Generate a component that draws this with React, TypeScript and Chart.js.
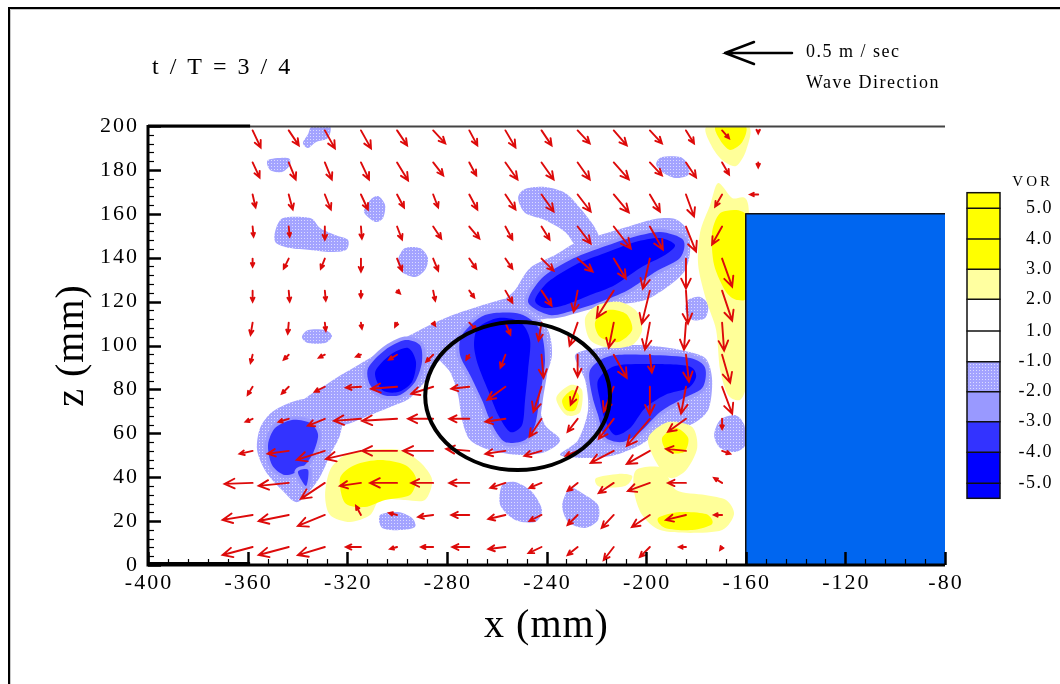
import React, { useEffect, useRef } from 'react';
import { Chart, registerables } from 'chart.js';
Chart.register(...registerables);

// ---- grid of measurement points (mm) ----
const gridX = [-358, -343.5, -329, -314.5, -300, -285.5, -271, -256.5, -242, -227.5, -213, -198.5, -184, -169.5, -155];
const gridZ = [198, 183.4, 168.8, 154.2, 139.6, 125, 110.4, 95.8, 81.2, 66.6, 52, 37.4, 22.8, 8.2];

// ---- horizontal velocity u (cm/s), one row per z level ----
const uRows: number[][] = [
  [6.0, 7.5, 7.5, 7.5, 7.5, 9.0, 6.0, 7.5, 7.5, 9.0, 9.7, 9.0, 6.0, 5.2, 0],
  [5.2, 5.2, 5.2, 6.0, 8.2, 7.5, 5.2, 9.0, 9.0, 9.0, 11.2, 9.0, 7.5, 5.2, 0],
  [2.2, 3.0, 4.5, 5.2, 5.2, 3.7, 6.0, 7.5, 9.0, 9.7, 11.2, 7.5, 6.0, -5.2, -6.0],
  [0.7, 0.7, 0, 0.7, 3.7, 6.0, 7.5, 5.2, 6.0, 9.7, 12.7, 9.7, 7.5, -7.5],
  [0, -3.7, -3.0, 0, 3.7, 3.7, 5.2, 5.2, 9.0, 11.2, 9.0, -5.2, 0, 7.5],
  [0, 0.7, 0.7, 0, 2.2, 1.5, 3.7, 5.2, 7.5, -3.0, -12.7, -6.0, 1.5, 7.5],
  [-1.5, -0.7, 0.7, 0.7, -1.5, 1.5, 5.2, 3.7, -2.2, -6.0, -3.7, -3.7, -1.5, 1.5],
  [-1.5, -3.7, -4.5, -3.7, -6.0, -5.2, -2.2, -3.7, 1.5, 0, 9.7, 1.5, 2.2, 6.0],
  [-3.7, -5.2, -7.5, -11.2, -19.4, -16.4, -13.4, -13.4, -6.0, -5.2, -7.5, 0, -3.7, 7.5],
  [-5.2, -7.5, -12.7, -20.1, -26.1, -18.7, -14.9, -14.9, -9.0, -7.5, -11.2, -17.2, -13.4, 0],
  [-9.7, -15.7, -20.9, -26.1, -26.1, -22.4, -17.2, -14.9, -12.7, -9.0, -17.2, -17.2, -14.9, 6.0],
  [-20.9, -22.4, -17.9, -15.7, -20.1, -16.4, -14.9, -11.2, -9.0, -7.5, -11.2, -16.4, -13.4, -6.0],
  [-22.4, -22.4, -20.1, -3.7, -6.0, -11.2, -13.4, -12.7, -9.0, -7.5, -9.0, -13.4, -14.9, -6.0],
  [-22.4, -22.4, -20.1, -11.2, -5.2, -9.0, -12.7, -12.7, -9.7, -7.5, -7.5, -7.5, -5.2, -1.5],
];

// ---- vertical velocity w (cm/s) ----
const wRows: number[][] = [
  [-12.7, -11.2, -13.4, -13.4, -11.2, -9.7, -11.2, -12.7, -11.2, -9.7, -11.2, -9.7, -9.7, -6.0, -2.2],
  [-11.2, -12.7, -12.7, -12.7, -13.4, -9.7, -9.7, -12.7, -12.7, -12.7, -12.7, -9.7, -11.2, -9.0, -3.7],
  [-9.7, -11.2, -11.2, -11.2, -9.7, -9.7, -11.2, -11.2, -12.7, -12.7, -13.4, -12.7, -16.4, -9.0, 0],
  [-7.5, -7.5, -9.7, -9.0, -9.7, -9.0, -9.0, -9.7, -9.7, -12.7, -16.4, -17.2, -18.7, -13.4],
  [-6.0, -7.5, -7.5, -9.7, -9.0, -9.0, -7.5, -7.5, -9.0, -9.7, -14.9, -22.4, -22.4, -20.9],
  [-8.2, -8.2, -7.5, -5.2, -2.2, -7.5, -5.2, -9.0, -11.2, -15.7, -20.1, -24.6, -24.6, -22.4],
  [-9.0, -8.2, -6.0, -4.5, -3.0, -2.2, -5.2, -9.0, -13.4, -17.2, -18.7, -20.1, -20.1, -20.9],
  [-6.0, -3.7, -2.2, -1.5, -3.7, -5.2, -3.7, -9.7, -17.2, -16.4, -17.2, -13.4, -20.1, -20.9],
  [-6.0, -5.2, -3.7, -0.7, -1.5, -5.2, -1.5, -9.7, -18.7, -13.4, -18.7, -20.9, -20.1, -20.1],
  [-2.2, -2.2, -5.2, -1.5, -1.5, 0, 0, -2.2, -13.4, -9.7, -14.9, -20.1, -9.7, -7.5],
  [-2.2, -2.2, -6.7, -6.0, 0, 0, 1.5, -2.2, -3.7, -3.7, -9.0, -9.7, 1.5, -2.2],
  [-0.7, -2.2, -11.9, -2.2, 0, 0, 0, -3.7, -3.7, -6.0, -7.5, -6.0, 0, 3.7],
  [-3.7, -4.5, -8.2, 6.7, 1.5, -1.5, 0, -3.0, -4.5, -7.5, -9.7, -9.0, -3.7, 0],
  [-6.0, -6.0, -6.0, 0, -1.5, 0, 0, -1.5, -4.5, -6.0, -9.7, -7.5, 0, -2.2],
];

// ---- vorticity contour regions (x mm, z mm) ----
// level -1 .. -2 (dotted)
const vorDotA = [[-334, 200], [-327, 200], [-327.7, 194.5], [-332.5, 192.7], [-335.7, 190], [-337.8, 192.3], [-335.7, 196.4]];
const vorDotB = [[-351.8, 184.5], [-343.8, 185.4], [-343, 182.2], [-346.2, 179], [-351, 180]];
const vorDotC = [[-345.8, 158.1], [-334.9, 158.1], [-330.9, 153.5], [-324.9, 150.3], [-319.7, 148.1], [-320.5, 143.5], [-326.9, 142.6], [-334.9, 143.5], [-343, 144.4], [-348.6, 146.7], [-349, 151.7]];
const vorDotD = [[-310.8, 166.3], [-307.6, 168.1], [-304.8, 164], [-305.6, 158.1], [-308.8, 156.3], [-313.3, 160.8]];
const vorDotE = [[-296.8, 144.4], [-290.8, 144.4], [-287.6, 139.9], [-288.8, 134.4], [-292.8, 131.2], [-298, 133.5], [-299.6, 139]];
const vorDotG = [[-193.6, 185.9], [-186.3, 185.9], [-183.1, 182.2], [-183.1, 177.7], [-188.4, 176.3], [-193.6, 179], [-196, 182.7]];
const vorDotH = [[-170.3, 66.1], [-164.3, 68.3], [-160.6, 63.8], [-160.2, 54.7], [-164.3, 51.5], [-170.3, 53.3], [-172.7, 59.2]];
const vorDotI = [[-257.8, 36.4], [-252.6, 37.8], [-245.8, 33.3], [-241.8, 25.1], [-244.6, 19.6], [-252.6, 20.5], [-258.6, 27.3]];
const vorDotJ = [[-230.5, 35.1], [-224.5, 31.9], [-219.3, 27.3], [-219.3, 20.5], [-224.5, 16.9], [-231.3, 19.6], [-233.7, 27.3]];
const vorDotK = [[-306.8, 22.8], [-299.6, 24.1], [-294, 21.4], [-292.8, 17.3], [-298.8, 15.9], [-306, 16.9]];
const vorDotL = [[-335.7, 107.1], [-328.9, 107.1], [-326.1, 104.3], [-328.9, 101.1], [-335.7, 101.1], [-338.2, 103.9]];
const vorDotN = [[-183.1, 120.7], [-178.3, 122.1], [-175.1, 118.5], [-176.3, 112.5], [-181.5, 111.6], [-184.3, 116.2]];
const vorDotBand1 = [[-339.8, 28.7], [-346.2, 34.2], [-352.6, 42.4], [-356.2, 52.4], [-355, 62.4], [-350.2, 69.7], [-342.2, 74.3], [-334.1, 76.1], [-326.9, 74.3], [-322.1, 68.3], [-322.9, 59.2], [-326.9, 50.1], [-331.7, 38.7]];
const vorDotBand2 = [[-339, 72.9], [-326.9, 83.4], [-314.9, 91.6], [-302, 100.2], [-290.8, 107.1], [-278.7, 113.4], [-266.7, 118], [-254.6, 121.6], [-246.6, 119.8], [-250.6, 107.1], [-270.7, 100.2], [-282.7, 93.4], [-287.6, 85.2], [-294.8, 76.1], [-300.8, 72.9], [-310.8, 68.3], [-320.9, 63.8], [-330.9, 62.4]];
const vorDotBand3 = [[-258.6, 118.5], [-252.6, 125.3], [-246.6, 135.3], [-236.5, 141.2], [-228.5, 146.7], [-218.5, 150.3], [-206.4, 154.4], [-196.4, 157.6], [-188.4, 157.6], [-183.5, 152.6], [-182.3, 143.5], [-184.3, 134.4], [-190.4, 127.6], [-200.4, 120.7], [-212.5, 118.5], [-224.5, 116.2], [-234.5, 113.4], [-244.6, 111.6], [-254.6, 112.5]];
const vorDotBand4 = [[-251.4, 167.2], [-248.6, 171.3], [-240.6, 172.2], [-232.5, 169.5], [-226.5, 162.6], [-220.5, 153.5], [-218.5, 145.8], [-226.5, 143.5], [-232.5, 151.7], [-240.6, 157.2], [-248.6, 160.4]];
const vorDotCircle = [[-285.9, 107.1], [-274.7, 112.5], [-258.6, 117.1], [-246.6, 115.3], [-239.4, 107.1], [-237.8, 95.7], [-240.6, 84.3], [-242.6, 72.9], [-240.6, 63.8], [-234.5, 57], [-240.6, 51.5], [-250.6, 50.1], [-262.7, 52.4], [-270.7, 57], [-273.9, 66.1], [-275.5, 77.5], [-278.7, 87.9], [-284.3, 95.7]];
const vorDotRight = [[-228.5, 95.7], [-218.5, 98.9], [-202.4, 100.2], [-186.4, 98], [-176.3, 94.3], [-173.5, 84.3], [-175.1, 70.6], [-182.3, 63.8], [-194.4, 60.6], [-202.4, 54.7], [-212.5, 50.1], [-222.5, 48.7], [-234.5, 50.1], [-227.3, 57], [-223.3, 70.6], [-224.5, 84.3]];

// level -3 .. -4
const vorMidLL = [[-351.8, 54.7], [-349, 62.4], [-342.2, 66.1], [-334.9, 64.7], [-331.7, 59.2], [-334.1, 50.1], [-339, 43.3], [-345, 41], [-350.2, 45.6]];
const vorMidLL2 = [[-339.8, 42.4], [-335.7, 43.3], [-336.5, 36]];
const vorMidBand = [[-311.6, 89.8], [-304.8, 98], [-296.8, 102.5], [-290.8, 100.2], [-290, 92.5], [-292.8, 83.4], [-298.8, 77.5], [-305.6, 77.5], [-310.8, 82]];
const vorMidCircle = [[-273.9, 104.8], [-264.7, 113.9], [-250.6, 114.4], [-242.6, 107.1], [-240.6, 93.4], [-242.6, 77.5], [-244.6, 63.8], [-248.6, 57], [-256.6, 56], [-261.8, 63.8], [-265.9, 75.2], [-270.7, 86.6], [-274.7, 95.7]];
const vorMidUpper = [[-247.4, 119.8], [-241.8, 130.8], [-230.5, 139], [-218.5, 144.4], [-206.4, 149], [-194.4, 151.7], [-185.1, 148.1], [-186.4, 139.9], [-196.4, 133.5], [-207.2, 125.3], [-218.5, 119.8], [-228.5, 116.2], [-238.6, 113.9]];
const vorMidRight = [[-222.5, 88.8], [-214.5, 95.2], [-198.4, 95.7], [-182.3, 94.3], [-176.3, 89.8], [-177.5, 80.6], [-186.4, 75.2], [-194.4, 69.7], [-202.4, 60.6], [-209.6, 56], [-216.5, 58.3], [-219.3, 68.3], [-221.7, 77.5]];

// level below -4
const vorDarkBand = [[-308.8, 87.9], [-302.8, 95.7], [-295.6, 98.9], [-292.4, 92.5], [-294, 83.4], [-299.6, 78.8], [-306, 79.7]];
const vorDarkCircle = [[-267.5, 108], [-259.4, 112.5], [-250.6, 110.7], [-246.6, 102.5], [-247.4, 88.8], [-248.6, 75.2], [-249.8, 63.8], [-254.6, 60.6], [-259.4, 68.3], [-263.5, 79.7], [-267.5, 91.1], [-269.1, 100.2]];
const vorDarkUpper = [[-244.6, 120.7], [-239.4, 128.9], [-228.5, 136.7], [-216.5, 142.1], [-204.4, 147.2], [-194.4, 149], [-188.4, 145.8], [-192.4, 141.2], [-202.4, 135.3], [-212.5, 127.6], [-222.5, 123], [-232.5, 118.5], [-240.6, 117.1]];
const vorDarkRight = [[-219.3, 84.3], [-212.5, 90.7], [-198.4, 91.6], [-183.1, 90.7], [-179.9, 86.1], [-183.1, 80.6], [-192.4, 77.5], [-200.4, 71.5], [-206.4, 62.4], [-212.5, 59.2], [-216.5, 66.1], [-218.5, 75.2]];

// level +2 .. +3 (pale yellow)
const vorPaleLL = [[-326.9, 43.3], [-320.9, 50.1], [-310.8, 52.4], [-298.8, 52.4], [-290.8, 46.9], [-285.9, 38.7], [-288.8, 29.6], [-296.8, 29.6], [-306.8, 29.6], [-310.8, 22.8], [-318.9, 19.6], [-326.9, 22.8], [-328.9, 31.9]];
const vorPaleMid = [[-224.5, 112.5], [-219.3, 118.5], [-210.4, 119.8], [-203.6, 115.3], [-201.6, 107.1], [-205.6, 100.2], [-214.5, 98.9], [-222.5, 102.5]];
const vorPaleCircle = [[-236.1, 76.1], [-230.5, 82], [-225.7, 79.7], [-226.5, 69.7], [-232.1, 68.3]];
const vorPaleLR1 = [[-199.2, 57.9], [-191.2, 65.1], [-181.5, 62.9], [-179.5, 53.3], [-183.9, 43.3], [-190.4, 39.6], [-196, 46.9]];
const vorPaleLR2 = [[-204, 43.3], [-193.6, 44.2], [-188, 34.2], [-176.3, 31.9], [-167.9, 29.6], [-164.7, 23.2], [-169.5, 15.9], [-182.3, 14.6], [-194.4, 15.9], [-201.6, 22.8], [-204.8, 33.3]];
const vorPaleLR3 = [[-220.1, 39.6], [-211.2, 41.5], [-205.6, 40.5], [-208.4, 36], [-218.5, 35.5]];
const vorPaleTop = [[-175.5, 200], [-159, 200], [-159.8, 189.1], [-163.9, 181.8], [-169.5, 184.5], [-173.9, 191.3]];
const vorPaleWall = [[-171.1, 174], [-165.5, 167.2], [-159, 164], [-159, 120.7], [-159.8, 100.2], [-159.8, 82], [-162.3, 75.2], [-167.1, 77.5], [-170.3, 88.8], [-171.9, 107.1], [-175.9, 120.7], [-179.1, 136.7], [-178.3, 151.7], [-174.3, 164]];

// level above +3 (yellow)
const vorYelLL = [[-322.9, 39.6], [-316.9, 45.6], [-306.8, 47.8], [-296.8, 45.6], [-292.4, 39.6], [-294.8, 31.9], [-304.8, 29.6], [-312.9, 26.4], [-320.9, 28.2]];
const vorYelMid = [[-220.5, 110.7], [-215.3, 116.2], [-208, 114.4], [-205.6, 107.1], [-211.2, 101.6], [-218.5, 103.9]];
const vorYelCircle = [[-233.7, 75.2], [-229.7, 79.7], [-226.9, 77], [-228.5, 70.6], [-232.1, 70.6]];
const vorYelLR1 = [[-193.6, 57.9], [-188, 62.4], [-183.1, 57.9], [-184.7, 51.5], [-191.2, 51.5]];
const vorYelLR2 = [[-195.2, 21.4], [-186.4, 24.1], [-175.9, 23.2], [-173.5, 18.7], [-181.5, 15.9], [-192.4, 16.9]];
const vorYelTop = [[-171.9, 200], [-160.2, 200], [-161.4, 192.7], [-166.3, 189.1], [-170.3, 193.6]];
const vorYelWall = [[-173.5, 151.7], [-169.5, 160.8], [-159, 158.1], [-159, 124.4], [-163.1, 120.7], [-167.9, 124.4], [-172.7, 136.7]];

const dottedRegions = [vorDotA, vorDotB, vorDotC, vorDotD, vorDotE, vorDotG, vorDotH, vorDotI, vorDotJ, vorDotK, vorDotL, vorDotN, vorDotBand1, vorDotBand2, vorDotBand3, vorDotBand4, vorDotCircle, vorDotRight];
const midRegions = [vorMidLL, vorMidLL2, vorMidBand, vorMidCircle, vorMidUpper, vorMidRight];
const darkRegions = [vorDarkBand, vorDarkCircle, vorDarkUpper, vorDarkRight];
const paleRegions = [vorPaleLL, vorPaleMid, vorPaleCircle, vorPaleLR1, vorPaleLR2, vorPaleLR3, vorPaleTop, vorPaleWall];
const yellowRegions = [vorYelLL, vorYelMid, vorYelCircle, vorYelLR1, vorYelLR2, vorYelTop, vorYelWall];

// structure (mm)
const structureX = [-160, -80];
const structureZ = [0, 160];
// highlighted vortex ellipse (mm)
const ellipseCenter = [-251.6, 77];
const ellipseRadii = [37.1, 33.7];

// axes
const xTickLabels = [-400, -360, -320, -280, -240, -200, -160, -120, -80];
const zTickLabels = [0, 20, 40, 60, 80, 100, 120, 140, 160, 180, 200];

// legend
const legendLabels = ['5.0', '4.0', '3.0', '2.0', '1.0', '-1.0', '-2.0', '-3.0', '-4.0', '-5.0'];
const legendFills = ['#ffff00', '#ffff00', '#ffff00', '#ffffa0', '#ffffff', '#ffffff', 'dot', '#9999ff', '#3333ff', '#0000ff', '#0000ff'];

const REF_SPEED = 50; // cm/s  (0.5 m/s)
const PX_PER_CMS = 1.34;
const SERIF = '"Liberation Serif", "DejaVu Serif", serif';

function makeDotPattern(ctx: CanvasRenderingContext2D) {
  const c = document.createElement('canvas');
  c.width = 3; c.height = 3;
  const g = c.getContext('2d')!;
  g.fillStyle = '#a3a3ff';
  g.fillRect(0, 0, 3, 3);
  g.fillStyle = '#dcdcff';
  g.fillRect(1, 1, 1, 1);
  return ctx.createPattern(c, 'repeat')!;
}

export default function App() {
  const ref = useRef<HTMLCanvasElement>(null);
  useEffect(() => {
    const canvas = ref.current!;
    const tails: { x: number; y: number }[] = [];
    gridZ.forEach((z, r) => uRows[r].forEach((_, c) => tails.push({ x: gridX[c], y: z })));

    const plugin = {
      id: 'vorticityField',
      beforeDraw(chart: any) {
        const ctx = chart.ctx as CanvasRenderingContext2D;
        ctx.save();
        ctx.fillStyle = '#ffffff';
        ctx.fillRect(0, 0, chart.width, chart.height);
        ctx.restore();
      },
      afterDatasetsDraw(chart: any) {
        const ctx = chart.ctx as CanvasRenderingContext2D;
        const xs = chart.scales.x, ys = chart.scales.y;
        const sx = (v: number) => xs.getPixelForValue(v);
        const sy = (v: number) => ys.getPixelForValue(v);
        const area = chart.chartArea;
        const dot = makeDotPattern(ctx);

        // closed Catmull-Rom spline through the region's vertices
        const path = (pts: number[][]) => {
          const p = pts.map(([x, z]) => [sx(x), sy(z)]);
          const n = p.length;
          ctx.beginPath();
          ctx.moveTo(p[0][0], p[0][1]);
          const t = 0.85;
          for (let i = 0; i < n; i++) {
            const p0 = p[(i - 1 + n) % n], p1 = p[i], p2 = p[(i + 1) % n], p3 = p[(i + 2) % n];
            const c1x = p1[0] + ((p2[0] - p0[0]) / 6) * t, c1y = p1[1] + ((p2[1] - p0[1]) / 6) * t;
            const c2x = p2[0] - ((p3[0] - p1[0]) / 6) * t, c2y = p2[1] - ((p3[1] - p1[1]) / 6) * t;
            ctx.bezierCurveTo(c1x, c1y, c2x, c2y, p2[0], p2[1]);
          }
          ctx.closePath();
        };

        ctx.save();
        ctx.beginPath();
        ctx.rect(area.left, area.top, area.right - area.left, area.bottom - area.top);
        ctx.clip();

        // contours
        ctx.fillStyle = dot;
        dottedRegions.forEach((r) => { path(r); ctx.fill(); });
        midRegions.forEach((r) => {
          path(r);
          ctx.strokeStyle = '#9999ff'; ctx.lineWidth = 7; ctx.lineJoin = 'round'; ctx.stroke();
          ctx.fillStyle = '#3333ff'; ctx.fill();
        });
        ctx.fillStyle = '#0000ff';
        darkRegions.forEach((r) => { path(r); ctx.fill(); });
        ctx.fillStyle = '#ffff99';
        paleRegions.forEach((r) => { path(r); ctx.fill(); });
        ctx.fillStyle = '#ffff00';
        yellowRegions.forEach((r) => { path(r); ctx.fill(); });

        // structure
        const bx0 = sx(structureX[0]), bx1 = sx(structureX[1]);
        const by0 = sy(structureZ[1]), by1 = sy(structureZ[0]);
        ctx.fillStyle = '#0066f0';
        ctx.fillRect(bx0, by0, bx1 - bx0, by1 - by0);
        ctx.strokeStyle = '#111';
        ctx.lineWidth = 1.5;
        ctx.beginPath();
        ctx.moveTo(bx0, by1); ctx.lineTo(bx0, by0); ctx.lineTo(bx1, by0);
        ctx.stroke();

        // vectors
        ctx.strokeStyle = '#dd0a0a';
        ctx.lineWidth = 1.9;
        ctx.lineCap = 'round';
        ctx.lineJoin = 'miter';
        gridZ.forEach((z, r) => {
          uRows[r].forEach((u, c) => {
            const w = wRows[r][c];
            const x0 = sx(gridX[c]), y0 = sy(z);
            const dx = u * PX_PER_CMS, dy = -w * PX_PER_CMS;
            const len = Math.hypot(dx, dy);
            if (len < 0.5) return;
            const x1 = x0 + dx, y1 = y0 + dy;
            const ang = Math.atan2(dy, dx);
            const hl = Math.min(11, Math.max(4, len * 0.4));
            const a = 0.45;
            ctx.beginPath();
            ctx.moveTo(x0, y0); ctx.lineTo(x1, y1);
            ctx.moveTo(x1 - hl * Math.cos(ang - a), y1 - hl * Math.sin(ang - a));
            ctx.lineTo(x1, y1);
            ctx.lineTo(x1 - hl * Math.cos(ang + a), y1 - hl * Math.sin(ang + a));
            ctx.stroke();
          });
        });
        ctx.restore();

        // ellipse
        ctx.save();
        ctx.strokeStyle = '#000';
        ctx.lineWidth = 4;
        ctx.beginPath();
        const ecx = sx(ellipseCenter[0]), ecy = sy(ellipseCenter[1]);
        ctx.ellipse(ecx, ecy, Math.abs(sx(ellipseCenter[0] + ellipseRadii[0]) - ecx), Math.abs(sy(ellipseCenter[1] + ellipseRadii[1]) - ecy), 0, 0, Math.PI * 2);
        ctx.stroke();
        ctx.restore();

        // axes
        ctx.save();
        const L = area.left, R = area.right, T = area.top, B = area.bottom;
        ctx.lineWidth = 2;
        ctx.strokeStyle = '#444';
        ctx.beginPath(); ctx.moveTo(L, T + 0.5); ctx.lineTo(R, T + 0.5); ctx.stroke();
        ctx.strokeStyle = '#000';
        ctx.lineWidth = 3;
        ctx.beginPath(); ctx.moveTo(L, T); ctx.lineTo(sx(-359), T); ctx.stroke();
        ctx.beginPath(); ctx.moveTo(L, T - 1); ctx.lineTo(L, B); ctx.lineTo(R, B); ctx.stroke();
        ctx.beginPath(); ctx.moveTo(L, B - 1.5); ctx.lineTo(sx(-359), B - 1.5); ctx.stroke();
        for (let v = -400; v <= -80; v += 8) {
          const major = v % 40 === 0;
          const px = Math.round(sx(v)) + 0.5;
          ctx.lineWidth = major ? 2.5 : 1.2;
          ctx.beginPath(); ctx.moveTo(px, B); ctx.lineTo(px, B - (major ? 13 : 6)); ctx.stroke();
        }
        for (let v = 0; v <= 200; v += 4) {
          const major = v % 20 === 0;
          const py = Math.round(sy(v)) + 0.5;
          ctx.lineWidth = major ? 2.5 : 1.2;
          ctx.beginPath(); ctx.moveTo(L, py); ctx.lineTo(L + (major ? 13 : 6), py); ctx.stroke();
        }
        // tick labels
        ctx.fillStyle = '#000';
        ctx.font = `22px ${SERIF}`;
        (ctx as any).letterSpacing = '2px';
        ctx.textBaseline = 'middle';
        ctx.textAlign = 'right';
        zTickLabels.forEach((v) => ctx.fillText(String(v), L - 9, sy(v)));
        ctx.textAlign = 'center';
        xTickLabels.forEach((v) => ctx.fillText(String(v), sx(v) + 1, B + 18));

        // axis titles
        ctx.font = `40px ${SERIF}`;
        (ctx as any).letterSpacing = '1px';
        ctx.textAlign = 'center';
        ctx.fillText('x (mm)', (L + R) / 2, 626);
        ctx.save();
        ctx.translate(72, (T + B) / 2);
        ctx.rotate(-Math.PI / 2);
        ctx.fillText('z (mm)', 0, 0);
        ctx.restore();

        // title
        ctx.font = `24px ${SERIF}`;
        (ctx as any).letterSpacing = '2.5px';
        ctx.textAlign = 'left';
        ctx.fillText('t / T = 3 / 4', 152, 68);

        // reference vector
        const refLen = REF_SPEED * PX_PER_CMS;
        const tipX = 725, tipY = 53;
        ctx.lineWidth = 2.5;
        ctx.lineCap = 'round';
        ctx.beginPath();
        ctx.moveTo(tipX + refLen, tipY); ctx.lineTo(tipX, tipY);
        ctx.moveTo(tipX + 29, tipY - 11); ctx.lineTo(tipX, tipY); ctx.lineTo(tipX + 29, tipY + 11);
        ctx.stroke();
        ctx.font = `18px ${SERIF}`;
        (ctx as any).letterSpacing = '1.5px';
        ctx.fillText('0.5 m / sec', 806, 52);
        ctx.fillText('Wave Direction', 806, 83);

        // legend
        const lb = [192.7, 208.3, 239, 269.3, 299.3, 331, 361.7, 391.7, 421.7, 452.3, 483.3, 498.3];
        const lx0 = 967, lw = 33;
        legendFills.forEach((f, i) => {
          ctx.fillStyle = f === 'dot' ? dot : f;
          ctx.fillRect(lx0, lb[i], lw, lb[i + 1] - lb[i]);
        });
        ctx.strokeStyle = '#111';
        ctx.lineWidth = 1.5;
        ctx.strokeRect(lx0, lb[0], lw, lb[lb.length - 1] - lb[0]);
        for (let i = 1; i < lb.length - 1; i++) {
          ctx.beginPath(); ctx.moveTo(lx0, lb[i]); ctx.lineTo(lx0 + lw, lb[i]); ctx.stroke();
        }
        ctx.fillStyle = '#000';
        ctx.font = `18px ${SERIF}`;
        (ctx as any).letterSpacing = '1.5px';
        ctx.textAlign = 'right';
        legendLabels.forEach((s, i) => ctx.fillText(s, 1053, lb[i + 1]));
        ctx.font = `15px ${SERIF}`;
        (ctx as any).letterSpacing = '3px';
        ctx.fillText('VOR', 1053, 182);

        // outer frame
        (ctx as any).letterSpacing = '0px';
        ctx.strokeStyle = '#000';
        ctx.lineWidth = 2;
        ctx.beginPath(); ctx.moveTo(9, 684); ctx.lineTo(9, 8); ctx.lineTo(1060, 8); ctx.stroke();
        ctx.strokeStyle = '#c8c8c8';
        ctx.lineWidth = 1;
        ctx.beginPath(); ctx.moveTo(10.5, 684); ctx.lineTo(10.5, 9.5); ctx.lineTo(1060, 9.5); ctx.stroke();
        ctx.restore();
      },
    };

    const chart = new Chart(canvas, {
      type: 'scatter',
      data: { datasets: [{ data: tails, pointRadius: 0, showLine: false }] },
      options: {
        animation: false,
        responsive: false,
        devicePixelRatio: 1,
        events: [],
        layout: { padding: { left: 148, top: 126, right: 115, bottom: 119 } },
        scales: {
          x: { type: 'linear', min: -400, max: -80, display: false },
          y: { type: 'linear', min: 0, max: 200, display: false },
        },
        plugins: { legend: { display: false }, tooltip: { enabled: false } },
      },
      plugins: [plugin],
    } as any);
    return () => chart.destroy();
  }, []);

  return (
    <div style={{ position: 'fixed', left: 0, top: 0, width: 1060, height: 684, background: '#fff' }}>
      <canvas ref={ref} width={1060} height={684} style={{ display: 'block' }} />
    </div>
  );
}
